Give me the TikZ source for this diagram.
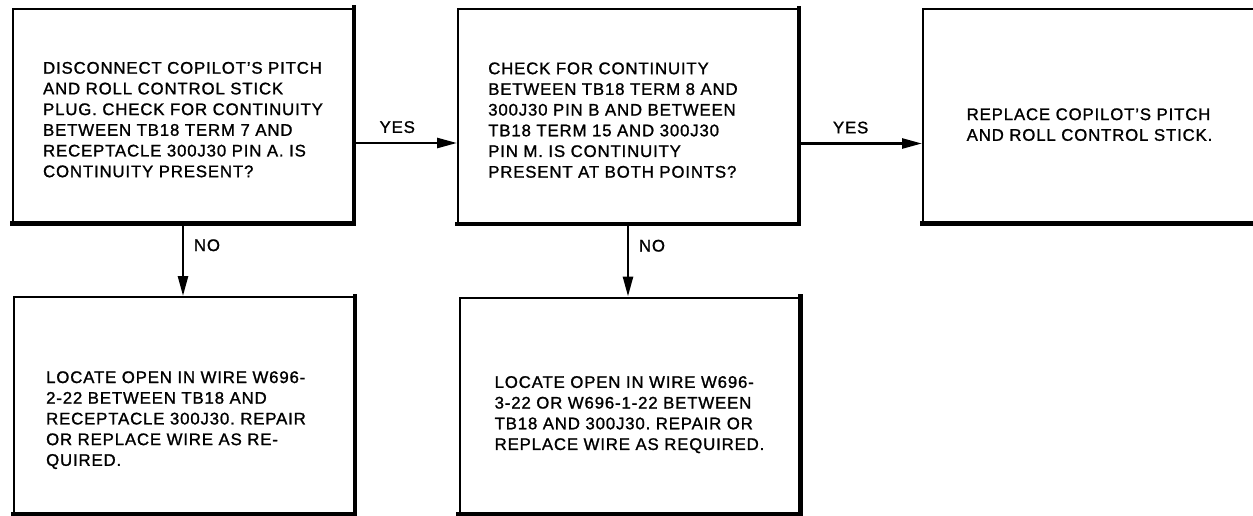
\documentclass[tikz,border=0pt]{standalone}
\usepackage{fontspec}
\setsansfont{Liberation Sans}[LetterSpace=5,FakeBold=1.2]
\usepackage{tikz}
\usetikzlibrary{arrows.meta}

\begin{document}
\begin{tikzpicture}[x=0.5pt,y=-0.5pt,
  font=\sffamily\fontsize{8.4}{10.35}\selectfont\frenchspacing,
  box/.style={draw=black,line width=1pt,minimum width=170pt,minimum height=107pt,
              align=left,inner sep=0pt},
  rim/.style={black,line width=2.2pt,line cap=rect},
  lnk/.style={-{Triangle[length=10pt,width=5pt]},black,line width=1.3pt}
]
\useasboundingbox (0,0) rectangle (1253,515);

% questions
\node[box] (q1) at (183,115.5) {\rule{0pt}{10pt}DISCONNECT COPILOT'S PITCH\\AND ROLL CONTROL STICK\\PLUG. CHECK FOR CONTINUITY\\BETWEEN TB18 TERM 7 AND\\RECEPTACLE 300J30 PIN A. IS\\CONTINUITY PRESENT?};
\node[box] (q2) at (628,116) {\rule{0pt}{10pt}CHECK FOR CONTINUITY\\BETWEEN TB18 TERM 8 AND\\300J30 PIN B AND BETWEEN\rule{16pt}{0pt}\\TB18 TERM 15 AND 300J30\\PIN M. IS CONTINUITY\\PRESENT AT BOTH POINTS?};
\node[box,minimum width=166.5pt] (q3) at (1089.5,115.5) {\rule{0pt}{15pt}REPLACE COPILOT'S PITCH\\AND ROLL CONTROL STICK.};

% repairs
\node[box,minimum height=108pt] (r1) at (184,405) {\rule{0pt}{21pt}LOCATE OPEN IN WIRE W696-\\2-22 BETWEEN TB18 AND\\RECEPTACLE 300J30. REPAIR\rule{8pt}{0pt}\\OR REPLACE WIRE AS RE-\\QUIRED.};
\node[box,minimum height=108pt] (r2) at (629.5,405.5) {\rule{0pt}{15pt}LOCATE OPEN IN WIRE W696-\\3-22 OR W696-1-22 BETWEEN\rule{5pt}{0pt}\\TB18 AND 300J30. REPAIR OR\\REPLACE WIRE AS REQUIRED.};

\foreach \n in {q1,q2,q3,r1,r2} \draw[rim] (\n.south west) -- (\n.south east) -- (\n.north east);

% yes / no
\draw[lnk] ([yshift=-13.75pt]q1.east) -- node[pos=0.42,above=1pt] (y1) {YES} ([yshift=-13.75pt]q1.east-|q2.west);
\draw[lnk] ([yshift=-13.75pt]q2.east) -- node[pos=0.42,above=1pt] (y2) {YES} ([yshift=-13.75pt]q2.east-|q3.west);
\draw[lnk] (q1.south) -- node[pos=0.3,right=1.5pt] (n1) {NO} (q1.south|-r1.north);
\draw[lnk] (q2.south) -- node[pos=0.3,right=1.5pt] (n2) {NO} (q2.south|-r2.north);
\end{tikzpicture}
\end{document}
